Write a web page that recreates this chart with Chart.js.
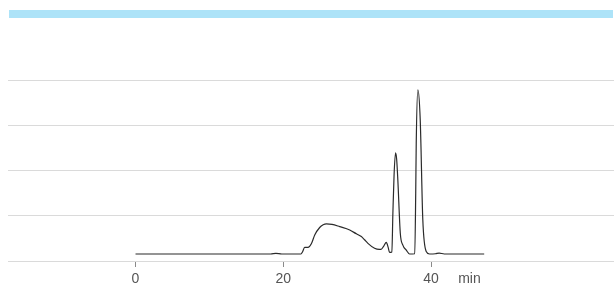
<!DOCTYPE html>
<html>
<head>
<meta charset="utf-8">
<script src="https://cdn.jsdelivr.net/npm/chart.js@4/dist/chart.umd.min.js"></script>
<style>
  body { margin: 0; background: #fff; }
  canvas { display: block; }
</style>
</head>
<body>
<canvas id="chrom" width="614" height="301"></canvas>
<script>
// retention time (min) and detector signal (one unit = one grid line)
const times = [0, 18.3, 19.0, 19.8, 22.4, 22.6, 22.9, 23.35, 23.8, 24.26, 24.93, 25.4, 25.84, 26.6, 27.64,
  29.0, 29.9, 30.57, 31.0, 31.46, 32.36, 33.0, 33.27, 33.6, 33.95, 34.2, 34.39, 34.7, 34.84, 35.0, 35.2,
  35.35, 35.51, 35.84, 36.19, 36.65, 37.09, 37.8, 37.93, 38.0, 38.22, 38.54, 38.89, 39.35, 39.8, 40.6,
  41.1, 41.8, 47.2];
const signal = [0.155, 0.155, 0.17, 0.155, 0.155, 0.2, 0.3, 0.3, 0.38, 0.575, 0.74, 0.8, 0.82, 0.81, 0.76,
  0.685, 0.6, 0.54, 0.47, 0.39, 0.28, 0.255, 0.26, 0.33, 0.41, 0.3, 0.19, 0.2, 1.06, 1.9, 2.39,
  2.25, 1.79, 0.62, 0.35, 0.24, 0.155, 0.16, 1.5, 2.6, 3.78, 3.12, 0.91, 0.21, 0.155, 0.16,
  0.175, 0.155, 0.155];
const tickValues = [0, 20, 40];
const unitLabel = "min";
const unitPos = 45.2;

const points = times.map((t, i) => ({ x: t, y: signal[i] }));

const topBand = {
  id: "topBand",
  beforeDraw(chart) {
    const c = chart.ctx;
    c.save();
    c.fillStyle = "#ade3f8";
    c.fillRect(9, 10, 604, 8);
    c.restore();
  }
};

new Chart(document.getElementById("chrom").getContext("2d"), {
  type: "line",
  data: {
    datasets: [{
      data: points,
      borderColor: "#2b2b2b",
      borderWidth: 1.2,
      pointRadius: 0,
      fill: false,
      cubicInterpolationMode: "monotone"
    }]
  },
  options: {
    responsive: false,
    devicePixelRatio: 1,
    animation: false,
    layout: { padding: { left: 8, right: 0, top: 80, bottom: 0 } },
    plugins: { legend: { display: false }, tooltip: { enabled: false } },
    scales: {
      x: {
        type: "linear",
        min: -17.26,
        max: 64.77,
        afterBuildTicks(axis) {
          axis.ticks = tickValues.concat([unitPos]).map(v => ({ value: v }));
        },
        afterFit(axis) { axis.height = 40; },
        border: { display: true, color: "#dadada", width: 1 },
        grid: {
          drawOnChartArea: false,
          tickLength: 6,
          tickColor: ctx => (ctx.tick && ctx.tick.value === unitPos ? "rgba(0,0,0,0)" : "#8a8a8a")
        },
        ticks: {
          autoSkip: false,
          maxRotation: 0,
          padding: 4,
          color: "#555",
          font: { family: "Liberation Sans", size: 14 },
          callback: v => (v === unitPos ? unitLabel : String(v))
        }
      },
      y: {
        min: 0,
        max: 4,
        ticks: { display: false, stepSize: 1 },
        border: { display: false },
        grid: { color: "#dadada", drawTicks: false }
      }
    }
  },
  plugins: [topBand]
});
</script>
</body>
</html>
